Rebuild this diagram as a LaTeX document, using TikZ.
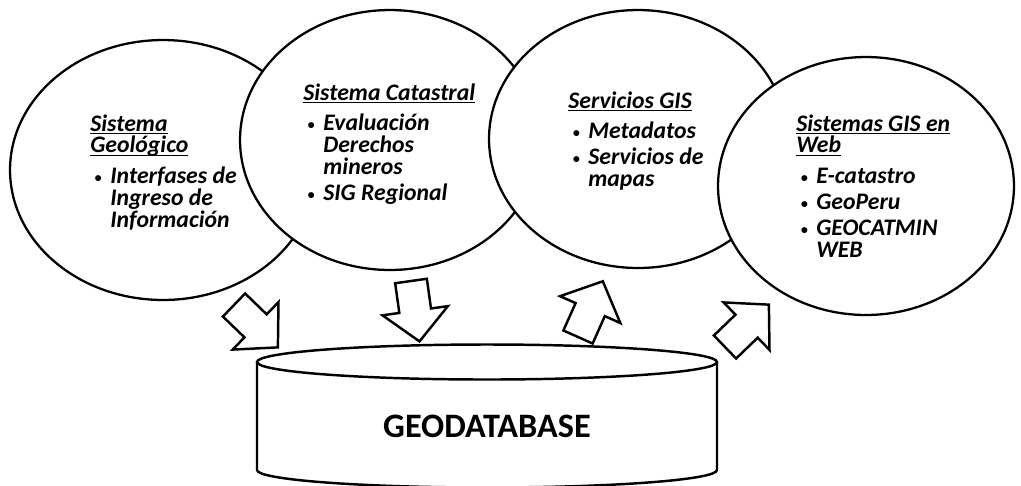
\documentclass[tikz,border=0pt]{standalone}
\usepackage{fontspec}
\setmainfont{Carlito}
\usetikzlibrary{shapes.geometric}
\setlength{\lineskiplimit}{-20pt}
\newcommand\ttl[1]{\setbox0\hbox{#1}\rlap{\rule[-1.8pt]{\wd0}{0.9pt}}\box0}
\newcommand\bul{\makebox[11.4pt][l]{\hspace{2.5pt}\raisebox{0.8pt}{\fontsize{8}{8}\selectfont\textbullet}}}
\newcommand\ind{\hspace*{11.4pt}}
\begin{document}
\begin{tikzpicture}[x=0.02cm, y=-0.02cm,
    bubble/.style={ellipse, draw, fill=white, line width=1.3pt, inner sep=0pt},
    txt/.style={anchor=north west, inner sep=0pt, align=left,
      font=\fontsize{13.5}{12.5}\selectfont\bfseries\itshape,
      execute at begin node={\rule{0pt}{10pt}}},
    blockarrow/.style={draw, fill=white, line width=1.4pt, line join=miter},
    tank/.style={draw, line width=1.4pt},
    bigarrow/.pic={\path[blockarrow] (0,-16) -- (30,-16) -- (30,-33) -- (61,0) -- (30,33) -- (30,16) -- (0,16) -- cycle;}]
    \useasboundingbox (0,0) rectangle (1021,485);
    % Four overlapping bubbles, left to right
    \node[bubble, minimum width=6.12cm, minimum height=5.2cm] (geo) at (163,170) {};
    \node[bubble, minimum width=6cm, minimum height=5.2cm] (cat) at (390,140) {};
    \node[bubble, minimum width=5.96cm, minimum height=5.16cm] (gis) at (638,139) {};
    \node[bubble, minimum width=5.92cm, minimum height=5.16cm] (web) at (866,186) {};
    % Bubble texts
    \node[txt] (geotxt) at (90,114) {\ttl{Sistema}\\\ttl{Geológico}\\[5pt]\bul Interfases de\\\ind Ingreso de\\\ind Información};
    \node[txt] (cattxt) at (303,83) {\ttl{Sistema Catastral}\\[5pt]\bul Evaluación\\\ind Derechos\\\ind mineros\\[2.3pt]\bul SIG Regional};
    \node[txt] (gistxt) at (568,91) {\ttl{Servicios GIS}\\[5pt]\bul Metadatos\\[2.3pt]\bul Servicios de\\\ind mapas};
    \node[txt] (webtxt) at (796,114) {\ttl{Sistemas GIS en}\\\ttl{Web}\\[5pt]\bul E-catastro\\[2.3pt]\bul GeoPeru\\[2.3pt]\bul GEOCATMIN\\\ind WEB};
    % Block arrows to and from the database
    \pic[rotate=-44] at (234,305) {bigarrow};
    \pic[rotate=-82] at (411,281) {bigarrow};
    \pic[rotate=66] at (578,337) {bigarrow};
    \pic[rotate=44] at (725,347) {bigarrow};
    % Database drum
    \coordinate (dbtop) at (487,362);
    \coordinate (dbbot) at (487,470);
    \path[tank] (257,362) -- (257,470) arc[start angle=180, end angle=0, x radius=230, y radius=17.5] -- (717,362);
    \path[tank] (dbtop) ellipse [x radius=230, y radius=17.5];
    \node[font=\fontsize{19.5}{19.5}\selectfont\bfseries] (db) at (487,426) {GEODATABASE};
\end{tikzpicture}
\end{document}
